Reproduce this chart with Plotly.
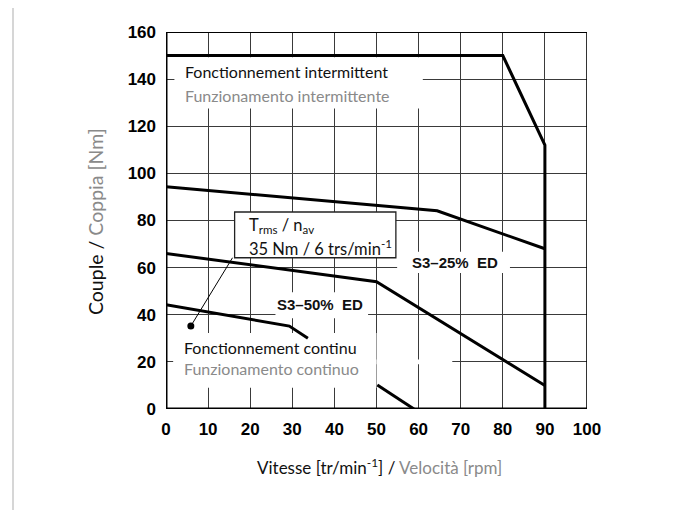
import plotly.graph_objects as go

# ---- data ----
x_intermittent = [0, 80, 90, 90]
y_intermittent = [150, 150, 112, 0]

x_s3_25 = [0, 64.4, 90]
y_s3_25 = [94.3, 84.1, 68]

x_s3_50 = [0, 50, 90]
y_s3_50 = [66, 54, 10]

x_continuous = [0, 29.3, 33.7, None, 50.2, 58.9]
y_continuous = [44.3, 35.2, 30.0, None, 10.2, 0]

x_leader = [5.9, 15.8]
y_leader = [35.2, 64.2]

x_ticks = [0, 10, 20, 30, 40, 50, 60, 70, 80, 90, 100]
y_ticks = [0, 20, 40, 60, 80, 100, 120, 140, 160]

GRAY = "#8a8a8a"
TXT_FONT = "Lato, Open Sans, sans-serif"
BOLD_FONT = "Liberation Sans Narrow, Liberation Sans, Arial, sans-serif"

fig = go.Figure()

line_style = dict(color="black", width=3)
fig.add_trace(go.Scatter(x=x_intermittent, y=y_intermittent, mode="lines", line=line_style, hoverinfo="skip"))
fig.add_trace(go.Scatter(x=x_s3_25, y=y_s3_25, mode="lines", line=line_style, hoverinfo="skip"))
fig.add_trace(go.Scatter(x=x_s3_50, y=y_s3_50, mode="lines", line=line_style, hoverinfo="skip"))
fig.add_trace(go.Scatter(x=x_continuous, y=y_continuous, mode="lines", line=line_style,
                         connectgaps=False, hoverinfo="skip"))
fig.add_trace(go.Scatter(x=x_leader, y=y_leader, mode="lines", line=dict(color="black", width=1),
                         hoverinfo="skip"))
fig.add_trace(go.Scatter(x=[x_leader[0]], y=[y_leader[0]], mode="markers",
                         marker=dict(color="black", size=7), hoverinfo="skip"))

shapes = []
# white areas behind texts (hide grid lines, not curves)
for (x0, x1, y0, y1) in [
    (2, 61, 127.5, 149.3),      # intermittent texts
    (54.9, 81.7, 57.7, 66.7),   # S3-25% label
    (26, 48, 38.5, 49.5),       # S3-50% label
    (1.7, 50, 9, 32.3),         # continuous texts
    (50, 68, 19, 21),           # broken 20 grid line
]:
    shapes.append(dict(type="rect", xref="x", yref="y", x0=x0, x1=x1, y0=y0, y1=y1,
                       fillcolor="white", line=dict(width=0), layer="between"))
# annotation box
shapes.append(dict(type="rect", xref="x", yref="y", x0=16.3, x1=54.6, y0=64.2, y1=83.6,
                   fillcolor="white", line=dict(color="#222", width=1.3), layer="between"))
# frame
shapes += [
    dict(type="line", xref="x", yref="y", x0=0, x1=0, y0=0, y1=160, line=dict(color="black", width=3), layer="above"),
    dict(type="line", xref="x", yref="y", x0=0, x1=100, y0=0, y1=0, line=dict(color="black", width=3), layer="above"),
    dict(type="line", xref="x", yref="y", x0=0, x1=100, y0=160, y1=160, line=dict(color="black", width=2.2), layer="above"),
    dict(type="line", xref="x", yref="y", x0=100, x1=100, y0=0, y1=160, line=dict(color="black", width=1.6), layer="above"),
]
# outer light-grey border of the picture
shapes.append(dict(type="rect", xref="paper", yref="paper", x0=-0.3634, x1=1.2043, y0=-0.35, y1=1.0743,
                   line=dict(color="#d6d6d6", width=2), fillcolor="rgba(0,0,0,0)", layer="below"))

ann = []
def txt(x, y, s, color="#111", size=16, family=TXT_FONT, anchor="left", weight=400):
    ann.append(dict(x=x, y=y, xref="x", yref="y", text=s, showarrow=False, xanchor=anchor,
                    yanchor="middle", font=dict(family=family, size=size, color=color, weight=weight)))

txt(4.0, 143.2, "Fonctionnement intermittent")
txt(4.0, 132.9, "Funzionamento intermittente", color=GRAY)
txt(3.8, 26.3, "Fonctionnement continu")
txt(3.8, 17.4, "Funzionamento continuo", color=GRAY)
txt(19.2, 77.8, "T<sub>rms</sub> / n<sub>av</sub>", size=16.5)
txt(19.2, 68.4, "35 Nm / 6 trs/min<sup>-1</sup>", size=16.5)
txt(68.6, 62.1, "S3–25%  ED", size=15, family=BOLD_FONT, anchor="center", weight="bold")
txt(36.6, 44.5, "S3–50%  ED", size=15, family=BOLD_FONT, anchor="center", weight="bold")

ann.append(dict(x=-0.1686, y=0.496, xref="paper", yref="paper", textangle=-90, showarrow=False,
                xanchor="center", yanchor="middle",
                text="Couple / <span style='color:%s'>Coppia [Nm]</span>" % GRAY,
                font=dict(family=TXT_FONT, size=19.5, color="#111", weight=400)))
ann.append(dict(x=0.506, y=-0.153, xref="paper", yref="paper", showarrow=False,
                xanchor="center", yanchor="middle",
                text="Vitesse [tr/min<sup>-1</sup>] / <span style='color:%s'>Velocità [rpm]</span>" % GRAY,
                font=dict(family=TXT_FONT, size=17, color="#111", weight=400)))

fig.update_layout(
    width=680, height=510,
    margin=dict(l=158, r=101, t=24, b=109),
    paper_bgcolor="white", plot_bgcolor="white",
    showlegend=False,
    shapes=shapes, annotations=ann,
    xaxis=dict(range=[0, 100], tickvals=x_ticks, ticktext=[str(v) for v in x_ticks],
               showgrid=True, gridcolor="#3a3a3a", gridwidth=1, zeroline=False, showline=False,
               ticks="", ticklabelstandoff=8,
               tickfont=dict(family="Liberation Sans, Arial", size=17, color="black", weight="bold")),
    yaxis=dict(range=[0, 160], tickvals=y_ticks, ticktext=[str(v) for v in y_ticks],
               showgrid=True, gridcolor="#3a3a3a", gridwidth=1, zeroline=False, showline=False,
               ticks="", ticklabelstandoff=9,
               tickfont=dict(family="Liberation Sans, Arial", size=17, color="black", weight="bold")),
)

fig.write_html("out.html")
